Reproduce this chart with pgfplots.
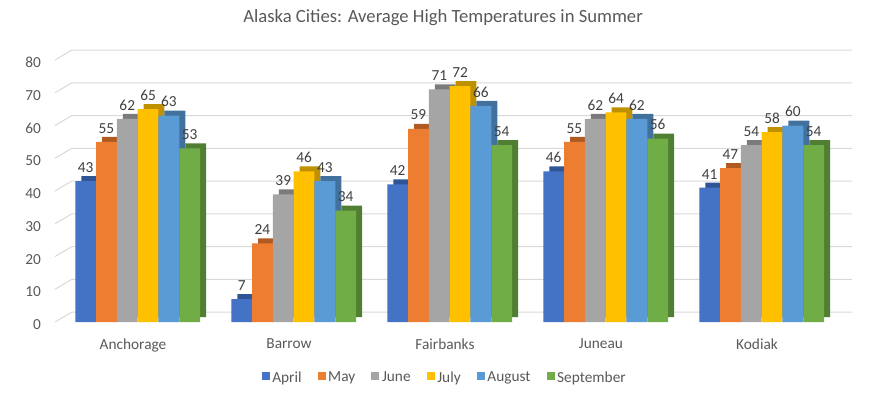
\documentclass[border=0pt]{standalone}
\usepackage{pgfplots}
\pgfplotsset{compat=1.18}
\usepackage{pgfplotstable}
\usepackage{fontspec}
\setmainfont{Carlito}
\definecolor{cA}{HTML}{4472C4}\definecolor{dA}{HTML}{2F5597}
\definecolor{cB}{HTML}{ED7D31}\definecolor{dB}{HTML}{AE5A21}
\definecolor{cC}{HTML}{A5A5A5}\definecolor{dC}{HTML}{7B7B7B}
\definecolor{cD}{HTML}{FFC000}\definecolor{dD}{HTML}{BF9000}
\definecolor{cE}{HTML}{5B9BD5}\definecolor{dE}{HTML}{41719C}
\definecolor{cF}{HTML}{70AD47}\definecolor{dF}{HTML}{507E32}
\definecolor{txt}{HTML}{595959}
\definecolor{lbl}{HTML}{404040}
\definecolor{gridc}{HTML}{D9D9D9}
\pgfplotstableread{
x Apr May Jun Jul Aug Sep
0 43 55 62 65 63 53
1 7 24 39 46 43 34
2 42 59 71 72 66 54
3 46 55 62 64 62 56
4 41 47 54 58 60 54
}\data
\pgfplotsset{
  front/.style={ybar, bar width=15.6pt, bar shift=#1, draw=none,
    nodes near coords,
    every node near coord/.append style={font=\fontsize{11.5}{12}\selectfont, text=lbl, xshift=#1, yshift=3pt}},
  back/.style={ybar, bar width=15.6pt, bar shift=#1, draw=none, forget plot,
    xshift=4.5pt, yshift=3.75pt}
}
\begin{document}
\begin{tikzpicture}
\useasboundingbox (0,0) rectangle (665.25pt,295.5pt);
\node[font=\fontsize{14}{16}\selectfont, text=txt] at (332.25pt,282pt) {Alaska Cities: Average High Temperatures in Summer};
\begin{axis}[
  at={(41.25pt,54pt)}, anchor=south west, scale only axis,
  width=585pt, height=196.5pt,
  xmin=-0.5, xmax=4.5, ymin=0, ymax=80,
  ytick={0,10,...,80}, xtick={0,...,4},
  xticklabels={Anchorage,Barrow,Fairbanks,Juneau,Kodiak},
  axis line style={draw=none}, major tick length=0pt,
  clip=false,
  /pgf/number format/assume math mode=true,
  yticklabel style={font=\fontsize{11.5}{12}\selectfont, text=txt, xshift=-7pt, yshift=-2pt},
  xticklabel style={font=\fontsize{11.5}{12}\selectfont, text=txt, yshift=-9pt},
  legend style={at={(0.5,-0.214)}, anchor=center, draw=none,
    font=\fontsize{11.5}{12}\selectfont, text=txt,
    /tikz/every even column/.append style={column sep=10pt}},
  legend columns=6,
  legend image code/.code={\fill[#1] (0pt,-1.5pt) rectangle (6pt,4.5pt);},
]
\pgfplotsinvokeforeach{0,10,20,30,40,50,60,70,80}{
  \draw[gridc, line width=0.75pt] (axis cs:-0.5,#1) -- ++(12.75pt,7.5pt) -- ([shift={(12.75pt,7.5pt)}]axis cs:4.5,#1);
}
\addplot[back=-35.5pt, fill=dA] table[x=x,y=Apr]{\data};
\addplot[back=-19.9pt, fill=dB] table[x=x,y=May]{\data};
\addplot[back=-4.3pt, fill=dC] table[x=x,y=Jun]{\data};
\addplot[back=11.3pt, fill=dD] table[x=x,y=Jul]{\data};
\addplot[back=26.9pt, fill=dE] table[x=x,y=Aug]{\data};
\addplot[back=42.5pt, fill=dF] table[x=x,y=Sep]{\data};
\addplot[front=-35.5pt, fill=cA] table[x=x,y=Apr]{\data};
\addplot[front=-19.9pt, fill=cB] table[x=x,y=May]{\data};
\addplot[front=-4.3pt, fill=cC] table[x=x,y=Jun]{\data};
\addplot[front=11.3pt, fill=cD] table[x=x,y=Jul]{\data};
\addplot[front=26.9pt, fill=cE] table[x=x,y=Aug]{\data};
\addplot[front=42.5pt, fill=cF] table[x=x,y=Sep]{\data};
\legend{April,May,June,July,August,September}
\end{axis}
\end{tikzpicture}
\end{document}
